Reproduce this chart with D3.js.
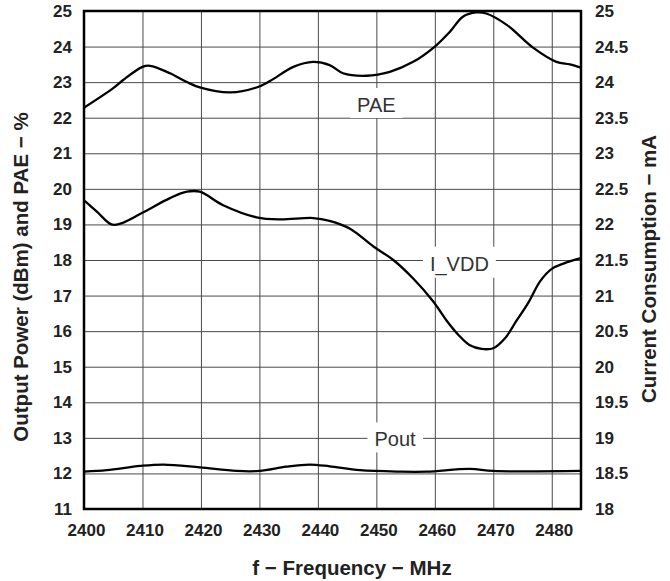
<!DOCTYPE html>
<html>
<head>
<meta charset="utf-8">
<script src="https://cdn.jsdelivr.net/npm/d3@7"></script>
<style>
  html, body { margin: 0; padding: 0; background: #fff; }
  svg { display: block; font-family: "Liberation Sans", Arial, sans-serif; }
</style>
</head>
<body>
<svg id="chart" width="670" height="581"></svg>
<script>
// ---- data ----
const xTicks = [2400, 2410, 2420, 2430, 2440, 2450, 2460, 2470, 2480];
const leftTicks = [11, 12, 13, 14, 15, 16, 17, 18, 19, 20, 21, 22, 23, 24, 25];
const rightTicks = [18, 18.5, 19, 19.5, 20, 20.5, 21, 21.5, 22, 22.5, 23, 23.5, 24, 24.5, 25];

const paeFreq = [2400, 2405, 2406.7, 2410, 2411.3, 2414.7, 2417.5, 2419.8, 2425, 2429.5, 2431.8, 2435.8, 2439.2, 2442, 2444.3, 2448.3, 2452.3, 2456.3, 2460, 2462.6, 2464.8, 2467.1, 2468.8, 2472.3, 2476.8, 2480.8, 2483.1, 2485];
const paeVals = [22.28, 22.83, 23.06, 23.43, 23.46, 23.25, 23.01, 22.85, 22.71, 22.85, 23.03, 23.43, 23.57, 23.48, 23.25, 23.18, 23.29, 23.57, 24.0, 24.42, 24.84, 24.96, 24.93, 24.61, 23.97, 23.57, 23.50, 23.41];

const iddFreq = [2400, 2402.2, 2404.7, 2406.2, 2409.9, 2414.7, 2417.6, 2419.8, 2423.8, 2429.5, 2433.5, 2439.2, 2442, 2445.5, 2449.5, 2452.9, 2456.3, 2459.7, 2462, 2464, 2466, 2468, 2470, 2472, 2474, 2476, 2478, 2480, 2482, 2485];
const iddVals = [22.34, 22.18, 22.0, 22.01, 22.16, 22.37, 22.46, 22.46, 22.27, 22.1, 22.07, 22.09, 22.05, 21.94, 21.69, 21.5, 21.24, 20.92, 20.65, 20.45, 20.3, 20.25, 20.26, 20.4, 20.65, 20.9, 21.2, 21.375, 21.45, 21.525];

const poutFreq = [2400, 2403.9, 2409.6, 2413.6, 2419.8, 2426.1, 2430, 2434.6, 2438.6, 2442, 2447.2, 2454, 2458.6, 2466, 2470, 2485];
const poutVals = [12.05, 12.09, 12.21, 12.25, 12.17, 12.07, 12.07, 12.19, 12.25, 12.2, 12.09, 12.05, 12.05, 12.13, 12.07, 12.07];

const curveLabels = ["PAE", "I_VDD", "Pout"];
const labelFreq = [2450.0, 2464.2, 2453.2];
const labelLeftVal = [22.16, 17.70, 12.76];

// ---- layout ----
const svg = d3.select("#chart");
const L = 84, R = 581, T = 11, B = 509;
const x = d3.scaleLinear().domain([2400, 2485]).range([L, R]);
const yL = d3.scaleLinear().domain([11, 25]).range([B, T]);
const yR = d3.scaleLinear().domain([18, 25]).range([B, T]);

svg.append("rect").attr("width", 670).attr("height", 581).attr("fill", "#fff");

// grid
const grid = svg.append("g");
grid.append("g").attr("transform", `translate(0,${B})`)
  .call(d3.axisBottom(x).tickValues(xTicks.slice(1)).tickSize(-(B - T)).tickFormat(""))
  .call(g => g.select(".domain").remove())
  .call(g => g.selectAll("line").attr("stroke", "#4a4a4a").attr("stroke-width", 1));
grid.append("g").attr("transform", `translate(${L},0)`)
  .call(d3.axisLeft(yL).tickValues(leftTicks.slice(1, -1)).tickSize(-(R - L)).tickFormat(""))
  .call(g => g.select(".domain").remove())
  .call(g => g.selectAll("line").attr("stroke", "#4a4a4a").attr("stroke-width", 1));

// curves
const line = (fx, vs, ys) => d3.line().x((d, i) => x(fx[i])).y(d => ys(d)).curve(d3.curveCatmullRom.alpha(0.5))(vs);
svg.append("path").attr("d", line(paeFreq, paeVals, yL)).attr("fill", "none").attr("stroke", "#000").attr("stroke-width", 2.3);
svg.append("path").attr("d", line(iddFreq, iddVals, yR)).attr("fill", "none").attr("stroke", "#000").attr("stroke-width", 2.3);
svg.append("path").attr("d", line(poutFreq, poutVals, yL)).attr("fill", "none").attr("stroke", "#000").attr("stroke-width", 2.3);

// curve labels with white background
curveLabels.forEach((txt, i) => {
  const g = svg.append("g");
  const rect = g.append("rect").attr("fill", "#fff");
  const t = g.append("text")
    .attr("x", x(labelFreq[i])).attr("y", yL(labelLeftVal[i]))
    .attr("text-anchor", "middle").attr("font-size", 20).attr("fill", "#333")
    .text(txt);
  const bb = t.node().getBBox();
  rect.attr("x", bb.x - 7).attr("y", bb.y - 6).attr("width", bb.width + 14).attr("height", bb.height + 8);
});

// frame
svg.append("rect").attr("x", L).attr("y", T).attr("width", R - L).attr("height", B - T)
  .attr("fill", "none").attr("stroke", "#000").attr("stroke-width", 2.5);

// axes labels
const axL = svg.append("g").attr("transform", `translate(${L - 12},0)`)
  .call(d3.axisLeft(yL).tickValues(leftTicks).tickSize(0).tickFormat(d3.format("d")));
const axR = svg.append("g").attr("transform", `translate(${R + 14},0)`)
  .call(d3.axisRight(yR).tickValues(rightTicks).tickSize(0).tickFormat(d => String(d)));
const axB = svg.append("g").attr("transform", `translate(2,${B + 12})`)
  .call(d3.axisBottom(x).tickValues(xTicks).tickSize(0).tickFormat(d3.format("d")));
[axL, axR, axB].forEach(a => {
  a.select(".domain").remove();
  a.selectAll("text").attr("font-size", 17).attr("font-weight", "bold").attr("fill", "#222")
    .attr("font-family", '"Liberation Sans", Arial, sans-serif');
});
axL.selectAll("text").attr("x", 0);
axR.selectAll("text").attr("x", 0);

// titles
svg.append("text").attr("x", 352).attr("y", 575).attr("text-anchor", "middle")
  .attr("font-size", 20.5).attr("font-weight", "bold").attr("fill", "#222")
  .text("f \u2212 Frequency \u2212 MHz");
svg.append("text").attr("transform", "translate(28,277) rotate(-90)").attr("text-anchor", "middle")
  .attr("font-size", 20.5).attr("font-weight", "bold").attr("fill", "#222")
  .text("Output Power (dBm) and PAE \u2212 %");
svg.append("text").attr("transform", "translate(656,269) rotate(-90)").attr("text-anchor", "middle")
  .attr("font-size", 20.5).attr("font-weight", "bold").attr("fill", "#222")
  .text("Current Consumption \u2212 mA");
</script>
</body>
</html>
